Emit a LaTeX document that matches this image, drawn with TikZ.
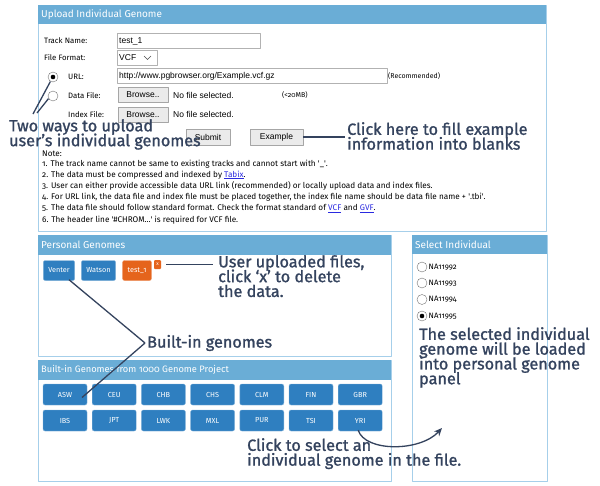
\documentclass[tikz,border=0pt]{standalone}
\usepackage{fontspec}
\setmainfont{Fira Sans}[Numbers=OldStyle]
\newfontfamily\arialfont{Liberation Sans}
\newfontfamily\annfont{Fira Sans}[FakeBold=1.2]
\usetikzlibrary{arrows.meta}
\definecolor{hdrblue}{HTML}{6AADD6}
\definecolor{frameblue}{HTML}{A6CFEA}
\definecolor{btnblue}{HTML}{2F7FC0}
\definecolor{btnorange}{HTML}{E5641C}
\definecolor{annot}{HTML}{34435E}
\definecolor{linkblue}{HTML}{2A2AE0}
\newcommand\lnk[1]{\textcolor{linkblue}{\underline{#1}}}
\newcommand\tightlines{\lineskiplimit=-20pt\relax}
\begin{document}
\begin{tikzpicture}[x=1pt, y=-1pt, line join=round,
panel/.style={draw=frameblue, fill=white, line width=1pt},
header/.style={fill=hdrblue},
hdr text/.style={anchor=west, text=white, inner sep=0pt, font=\fontsize{10}{12}\selectfont},
form label/.style={anchor=west, inner sep=0pt, font=\fontsize{7.8}{9}\selectfont},
inbox/.style={draw=black!30, fill=white, anchor=west, align=left, inner xsep=2pt, inner ysep=0pt, minimum height=15pt, font=\arialfont\fontsize{8.5}{10}\selectfont},
graybtn/.style={draw=black!35, fill=black!8, inner xsep=4pt, inner ysep=0pt, minimum height=15pt, font=\arialfont\fontsize{8.5}{10}\selectfont},
plain/.style={anchor=west, inner sep=0pt, font=\arialfont\fontsize{8.5}{10}\selectfont},
radio/.style={circle, draw=black!55, fill=white, minimum size=10pt, inner sep=0pt},
radio on/.style={radio, path picture={\fill[black] (path picture bounding box.center) circle (2.3pt);}},
gbtn/.style={fill=btnblue, draw=btnblue!60!white, rounded corners=2pt, text=white, minimum height=20pt, inner xsep=5pt, font=\fontsize{7.3}{8}\selectfont},
ann/.style={text=annot, align=left, anchor=north west, inner sep=0pt, font=\annfont\fontsize{16.2}{14.8}\selectfont\tightlines},
annline/.style={draw=annot, line width=1.3pt}]
\useasboundingbox (0,0) rectangle (600,485);
% panels
\draw[panel] (38,5) rectangle (546,231);
\fill[header] (38,5) rectangle (546,24);
\draw[panel] (38,235) rectangle (391,356);
\fill[header] (38,235) rectangle (391,255);
\draw[panel] (38,360) rectangle (391,481);
\fill[header] (38,360) rectangle (391,380);
\draw[panel] (412,235) rectangle (547,481);
\fill[header] (412,235) rectangle (547,254);
\node[hdr text] (uphdr) at (41,14.5) {Upload Individual Genome};
\node[hdr text] (pghdr) at (41,245) {Personal Genomes};
\node[hdr text, font=\fontsize{9.3}{11}\selectfont] (bihdr) at (41,370) {Built-in Genomes from 1000 Genome Project};
\node[hdr text] (sihdr) at (415,244.5) {Select Individual};
% upload form
\begin{scope}
\node[form label] (trackl) at (44,41) {Track Name:};
\node[form label] (formatl) at (44,58) {File Format:};
\node[form label] (urll) at (68,77) {URL:};
\node[form label] (datal) at (68,96) {Data File:};
\node[form label] (indexl) at (68,115) {Index File:};
\node[inbox, text width=139pt] (trackbox) at (117,41) {test\_1};
\node[inbox, text width=36pt] (vcfbox) at (117,58) {VCF};
\draw[black!70, line width=0.7pt] (144,56) -- (147.5,59.5) -- (151,56);
\node[inbox, text width=266pt] (urlbox) at (117,76) {http://www.pgbrowser.org/Example.vcf.gz};
\node[form label, font=\fontsize{7}{8}\selectfont] (recom) at (388,76) {(Recommended)};
\node[radio on] (rurl) at (53,77) {};
\node[radio] (rdata) at (53,96) {};
\node[graybtn, minimum width=50pt] (browse1) at (143,95) {Browse..};
\node[plain] (nofile1) at (173,95) {No file selected.};
\node[form label, font=\fontsize{7}{8}\selectfont] (limit) at (282,95) {(<20MB)};
\node[graybtn, minimum width=50pt] (browse2) at (143,114.5) {Browse..};
\node[plain] (nofile2) at (173,114.5) {No file selected.};
\node[graybtn, minimum width=44pt, minimum height=16pt] (submit) at (208,137) {Submit};
\node[graybtn, minimum width=53pt, minimum height=16pt] (example) at (276.5,137) {Example};
\end{scope}
% notes
\begin{scope}[every node/.style={anchor=west, inner sep=0pt, font=\fontsize{8.2}{9}\selectfont}]
\node (note) at (42,153.5) {Note:};
\node (n1) at (42,164) {1. The track name cannot be same to existing tracks and cannot start with \textquotesingle\_\textquotesingle.};
\node (n2) at (42,175) {2. The data must be compressed and indexed by \lnk{Tabix}.};
\node (n3) at (42,186) {3. User can either provide accessible data URL link (recommended) or locally upload data and index files.};
\node (n4) at (42,197) {4. For URL link, the data file and index file must be placed together, the index file name should be data file name + \textquotesingle.tbi\textquotesingle.};
\node (n5) at (42,208.5) {5. The data file should follow standard format. Check the format standard of \lnk{VCF} and \lnk{GVF}.};
\node (n6) at (42,220) {6. The header line \textquotesingle\#CHROM...\textquotesingle\ is required for VCF file.};
\end{scope}
% personal genomes
\node[gbtn] (venter) at (59,270.5) {Venter};
\node[gbtn] (watson) at (98.5,270.5) {Watson};
\node[gbtn, fill=btnorange, draw=btnorange!70!white] (test1) at (137,270.5) {test\_1};
\node[fill=btnorange, rounded corners=1pt, text=white, minimum width=7pt, minimum height=9pt, inner sep=0pt, font=\fontsize{5}{6}\selectfont] (xdel) at (157.5,264.5) {x};
% built-in genomes
\begin{scope}[every node/.style={gbtn, minimum width=44pt, minimum height=21pt}]
\node (asw) at (65,394.5) {ASW};
\node (ceu) at (114.2,394.5) {CEU};
\node (chb) at (163.4,394.5) {CHB};
\node (chs) at (212.6,394.5) {CHS};
\node (clm) at (261.8,394.5) {CLM};
\node (fin) at (311,394.5) {FIN};
\node (gbr) at (360.2,394.5) {GBR};
\node (ibs) at (65,420.5) {IBS};
\node (jpt) at (114.2,420.5) {JPT};
\node (lwk) at (163.4,420.5) {LWK};
\node (mxl) at (212.6,420.5) {MXL};
\node (pur) at (261.8,420.5) {PUR};
\node (tsi) at (311,420.5) {TSI};
\node (yri) at (360.2,420.5) {YRI};
\end{scope}
% select individual
\node[radio] (r92) at (422,267) {};
\node[radio] (r93) at (422,283) {};
\node[radio] (r94) at (422,299.5) {};
\node[radio on] (r95) at (422,316) {};
\begin{scope}[every node/.style={form label}]
\node (na92) at (428.5,267) {NA11992};
\node (na93) at (428.5,283) {NA11993};
\node (na94) at (428.5,299.5) {NA11994};
\node (na95) at (428.5,316) {NA11995};
\end{scope}
% annotations
\node[ann] (twoways) at (9,119) {Two ways to upload\\user’s individual genomes};
\node[ann] (clickhere) at (347,122) {Click here to fill example\\information into blanks};
\node[ann] (userup) at (218,255) {User uploaded files,\\click ‘x’ to delete\\the data.};
\node[ann, anchor=west] (builtin) at (147,343) {Built-in genomes};
\node[ann] (clicksel) at (247,438) {Click to select an\\individual genome in the file.};
\node[ann] (selected) at (419,327) {The selected individual\\genome will be loaded\\into personal genome\\panel};
\coordinate (twoA) at (33,114);
\coordinate (twoB) at (37,113);
\coordinate (arrtip) at (442,428);
\draw[annline] (twoA) -- (rurl.240);
\draw[annline] (twoB) -- (rdata.210);
\draw[annline] (example.east) -- ([xshift=-2pt]clickhere.west |- example.east);
\draw[annline] ([xshift=5pt]xdel.east) -- ([xshift=-5pt]userup.west |- xdel.east);
\draw[annline] ([xshift=10pt,yshift=1pt]venter.south) -- ([xshift=-2pt]builtin.west);
\draw[annline] ([xshift=-2pt]builtin.west) -- ([xshift=17pt,yshift=-3pt]asw.center);
\draw[annline, -{Stealth[length=8pt,width=7pt]}] ([xshift=-2pt,yshift=1pt]yri.south) .. controls (365,452) and (420,452) .. (arrtip);
\end{tikzpicture}
\end{document}
